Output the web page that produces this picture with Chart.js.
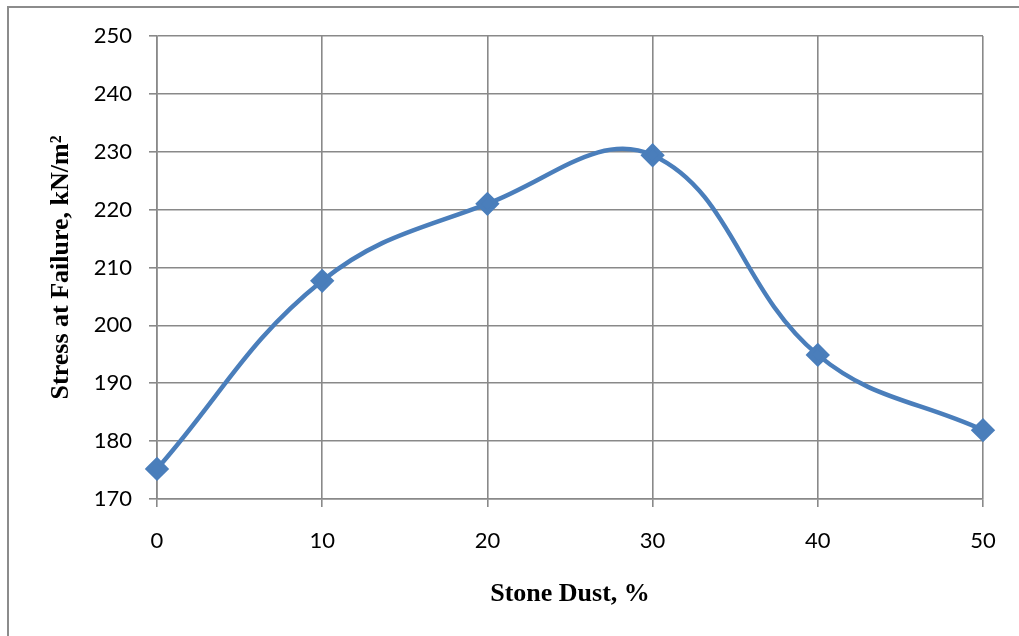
<!doctype html>
<html lang="en">

<head>
    <meta charset="utf-8">
    <title>Stress at Failure vs Stone Dust</title>
    <style>
        * {
            margin: 0;
            padding: 0;
        }

        body {
            background: #fff;
        }

        #myChart {
            display: block;
        }
    </style>
</head>

<body>
    <canvas id="myChart" width="1019" height="636"></canvas>

    <script src="https://cdn.jsdelivr.net/npm/chart.js"></script>

    <script>
        // stone dust content (%) and stress at failure (kN/m2)
        const stoneDust = [0, 10, 20, 30, 40, 50];
        const stress = [175.2, 207.7, 221.0, 229.4, 194.9, 181.9];

        const yMin = 170;
        const yMax = 250;
        const yStep = 10;

        const gridColor = '#898989';
        const lineColor = '#4a7ebb';

        // gray frame on the left and top edges
        const framePlugin = {
            id: 'frame',
            beforeDraw(chart) {
                const ctx = chart.ctx;
                ctx.save();
                ctx.strokeStyle = '#8c8c8c';
                ctx.lineWidth = 2;
                ctx.beginPath();
                ctx.moveTo(8, chart.height);
                ctx.lineTo(8, 7);
                ctx.lineTo(chart.width, 7);
                ctx.stroke();
                ctx.restore();
            }
        };

        const data = {
            datasets: [{
                label: 'Stress at Failure',
                data: stoneDust.map((x, i) => ({ x: x, y: stress[i] })),
                borderColor: lineColor,
                backgroundColor: lineColor,
                borderWidth: 4.5,
                tension: 0.4,
                pointStyle: 'rectRot',
                pointRadius: 9,
                pointHoverRadius: 9,
                clip: false
            }]
        };

        const config = {
            type: 'line',
            data,
            plugins: [framePlugin],
            options: {
                responsive: false,
                animation: false,
                layout: {
                    padding: { left: 0, top: 36, right: 36, bottom: 0 }
                },
                plugins: {
                    legend: { display: false },
                    tooltip: { enabled: false }
                },
                scales: {
                    x: {
                        type: 'linear',
                        min: 0,
                        max: 50,
                        afterFit(scale) { scale.height = 137; },
                        grid: { color: gridColor, lineWidth: 1.6, tickLength: 8 },
                        border: { color: gridColor, width: 1.6 },
                        ticks: {
                            stepSize: 10,
                            color: '#000',
                            padding: 21,
                            font: { family: 'Lato', size: 22 }
                        },
                        title: {
                            display: true,
                            text: 'Stone Dust, %',
                            color: '#000',
                            padding: { top: 0, bottom: 26 },
                            font: { family: 'Liberation Serif', size: 26, weight: 'bold' }
                        }
                    },
                    y: {
                        min: yMin,
                        max: yMax,
                        afterFit(scale) { scale.width = 157; },
                        grid: { color: gridColor, lineWidth: 1.6, tickLength: 8 },
                        border: { color: gridColor, width: 1.6 },
                        ticks: {
                            stepSize: yStep,
                            color: '#000',
                            padding: 17,
                            font: { family: 'Lato', size: 22 }
                        },
                        title: {
                            display: true,
                            text: 'Stress at Failure, kN/m²',
                            color: '#000',
                            padding: { top: 46, bottom: 0 },
                            font: { family: 'Liberation Serif', size: 26, weight: 'bold' }
                        }
                    }
                }
            }
        };

        const myChart = new Chart(
            document.getElementById('myChart'),
            config
        );
    </script>

</body>

</html>
